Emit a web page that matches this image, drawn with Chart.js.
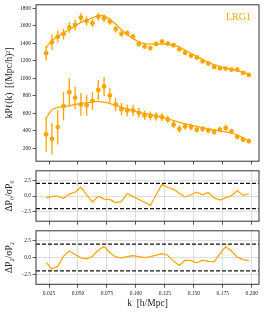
<!DOCTYPE html>
<html>
<head>
<meta charset="utf-8">
<script src="https://cdn.jsdelivr.net/npm/chart.js@4.4.1/dist/chart.umd.min.js"></script>
<style>
  html, body { margin: 0; padding: 0; background: #fff; }
  body { width: 266px; height: 312px; position: relative; overflow: hidden; }
  canvas { position: absolute; left: 0; }
</style>
</head>
<body>
<canvas id="multipoles" width="266" height="166" style="top:0"></canvas>
<canvas id="resMono" width="266" height="60" style="top:166px"></canvas>
<canvas id="resQuad" width="266" height="86" style="top:226px"></canvas>
<script>
// k bins (h/Mpc)
const kValues = [0.0225, 0.0275, 0.0325, 0.0375, 0.0425, 0.0475, 0.0525, 0.0575, 0.0625,
    0.0675, 0.0725, 0.0775, 0.0825, 0.0875, 0.0925, 0.0975, 0.1025, 0.1075, 0.1125,
    0.1175, 0.1225, 0.1275, 0.1325, 0.1375, 0.1425, 0.1475, 0.1525, 0.1575, 0.1625,
    0.1675, 0.1725, 0.1775, 0.1825, 0.1875, 0.1925, 0.1975];

// monopole kP0: measurement, error, model
const p0Data = [1286, 1411, 1475, 1506, 1580, 1611, 1694, 1656, 1630, 1705, 1687, 1649,
    1562, 1508, 1515, 1475, 1392, 1362, 1345, 1392, 1419, 1396, 1377, 1331, 1291, 1257,
    1237, 1192, 1169, 1128, 1113, 1110, 1098, 1098, 1060, 1037];
const p0Err = [85, 90, 70, 62, 60, 58, 55, 50, 45, 45, 43, 40, 38, 35, 33, 31, 30, 28,
    27, 26, 25, 24, 23, 22, 21, 20, 20, 19, 18, 18, 17, 17, 16, 16, 15, 15];
const p0Model = [1350, 1430, 1480, 1520, 1555, 1595, 1640, 1665, 1690, 1715, 1715, 1670,
    1620, 1555, 1500, 1455, 1415, 1395, 1390, 1390, 1390, 1388, 1378, 1355, 1320, 1285,
    1250, 1215, 1180, 1155, 1135, 1118, 1102, 1088, 1068, 1045];

// quadrupole kP2: measurement, error, model
const p2Data = [358, 306, 440, 680, 840, 776, 700, 690, 740, 866, 905, 803, 698, 645,
    630, 630, 604, 575, 566, 562, 553, 528, 468, 419, 449, 440, 411, 419, 403, 385,
    411, 430, 392, 329, 298, 279];
const p2Err = [200, 180, 200, 165, 165, 130, 130, 120, 105, 112, 110, 85, 75, 70, 66, 62,
    57, 53, 50, 48, 46, 44, 42, 40, 38, 37, 36, 35, 34, 33, 32, 31, 30, 29, 28, 27];
const p2Model = [540, 640, 665, 675, 685, 700, 710, 720, 730, 735, 725, 710, 690, 668,
    650, 630, 612, 598, 585, 570, 555, 535, 515, 495, 478, 462, 448, 433, 420, 408, 398,
    385, 372, 350, 318, 285];

// normalised residuals
const res0 = [-0.3, -0.05, 0.0, -0.4, 0.3, 0.6, 1.4, 0.2, -0.95, -0.05, -0.5, -0.55,
    -1.05, -0.9, 0.4, -0.1, -0.55, -1.0, -1.5, 0.2, 1.85, 1.35, 1.05, 0.45, -0.15, 0.2,
    0.6, 0.2, 0.55, -0.3, -0.65, -0.25, 0.05, 0.85, 0.1, 0.35];
const res2 = [-0.77, -1.7, -1.3, 0.2, 0.97, 0.46, -0.05, -0.2, 0.2, 1.08, 1.65, 0.72,
    0.1, -0.05, 0.15, 0.3, 0.15, 0.0, 0.15, 0.35, 0.57, 0.35, -0.57, -1.18, -0.4, -0.45,
    -0.8, -0.4, -0.57, -0.66, 0.6, 1.6, 0.97, 0.05, -0.3, -0.45];
const sigmaLevels = [2, -2];

// axes
const kTicks = [0.025, 0.05, 0.075, 0.1, 0.125, 0.15, 0.175, 0.2];
const kTickLabels = ["0.025", "0.050", "0.075", "0.100", "0.125", "0.150", "0.175", "0.200"];
const powerTicks = [200, 400, 600, 800, 1000, 1200, 1400, 1600, 1800];
const resTicks = [-2.5, 0, 2.5];
const resTickLabels = ["\u22122.5", "0.0", "2.5"];
const tracerName = "LRG1";

const ORANGE = "#ffa500";
const SERIF = "'Liberation Serif', 'DejaVu Serif', serif";
const kMin = 0.01375, kMax = 0.20625;

function toPoints(xs, ys) {
    return xs.map((x, i) => ({ x: x, y: ys[i] }));
}

// vertical error bar segments separated by gaps
function errorSegments(xs, ys, errs) {
    const pts = [];
    xs.forEach((x, i) => {
        pts.push({ x: x, y: ys[i] - errs[i] });
        pts.push({ x: x, y: ys[i] + errs[i] });
        pts.push({ x: x, y: null });
    });
    return pts;
}

const frame = {
    id: "frame",
    afterDraw(chart) {
        const a = chart.chartArea, c = chart.ctx;
        c.save();
        c.strokeStyle = "#333";
        c.lineWidth = 1;
        c.strokeRect(a.left, a.top, a.right - a.left, a.bottom - a.top);
        c.restore();
    }
};

const tracerLabel = {
    id: "tracerLabel",
    afterDraw(chart) {
        const a = chart.chartArea, c = chart.ctx;
        c.save();
        c.fillStyle = ORANGE;
        c.font = "10px " + SERIF;
        c.textAlign = "right";
        c.textBaseline = "alphabetic";
        c.fillText(tracerName, a.right - 8, a.top + 15.5);
        c.restore();
    }
};

function xAxis(showLabels, height, gridOn) {
    return {
        type: "linear",
        min: kMin,
        max: kMax,
        afterBuildTicks: s => { s.ticks = kTicks.map(v => ({ value: v })); },
        afterFit: s => { s.height = height; },
        grid: {
            display: true,
            drawOnChartArea: gridOn,
            color: "#d4d4d4",
            lineWidth: 0.8,
            tickColor: "#333",
            tickLength: 3.5
        },
        border: { display: false },
        ticks: {
            display: showLabels,
            autoSkip: false,
            maxRotation: 0,
            padding: 2,
            color: "#222",
            font: { family: SERIF, size: 5.5 },
            callback: (v, i) => kTickLabels[i]
        },
        title: {
            display: showLabels,
            text: "k  [h/Mpc]",
            color: "#222",
            font: { family: SERIF, size: 9.5 },
            padding: { top: 0, bottom: 3 }
        }
    };
}

function yAxis(min, max, ticks, labels, title, gridOn) {
    return {
        type: "linear",
        min: min,
        max: max,
        afterBuildTicks: s => { s.ticks = ticks.map(v => ({ value: v })); },
        afterFit: s => { s.width = 36; },
        grid: {
            display: true,
            drawOnChartArea: gridOn,
            color: "#d4d4d4",
            lineWidth: 0.8,
            tickColor: "#333",
            tickLength: 3.5
        },
        border: { display: false },
        ticks: {
            autoSkip: false,
            padding: 1.5,
            color: "#222",
            font: { family: SERIF, size: 5.5 },
            callback: (v, i) => labels[i]
        },
        title: {
            display: true,
            text: title,
            color: "#222",
            font: { family: SERIF, size: 9.5 },
            padding: { top: 4, bottom: 0 }
        }
    };
}

function baseOptions(padTop, xCfg, yCfg) {
    return {
        responsive: false,
        animation: false,
        events: [],
        layout: { padding: { top: padTop, right: 7, left: 0, bottom: 0 } },
        plugins: { legend: { display: false }, tooltip: { enabled: false } },
        scales: { x: xCfg, y: yCfg }
    };
}

function initMultipoles() {
    const ctx = document.getElementById("multipoles");
    new Chart(ctx, {
        type: "line",
        data: {
            datasets: [
                { data: toPoints(kValues, p0Data), showLine: false, pointRadius: 2.4,
                  pointBackgroundColor: ORANGE, pointBorderWidth: 0, order: 1 },
                { data: toPoints(kValues, p2Data), showLine: false, pointRadius: 2.4,
                  pointBackgroundColor: ORANGE, pointBorderWidth: 0, order: 1 },
                { data: toPoints(kValues, p0Model), borderColor: ORANGE, borderWidth: 1.3,
                  pointRadius: 0, tension: 0.35, order: 2 },
                { data: toPoints(kValues, p2Model), borderColor: ORANGE, borderWidth: 1.3,
                  pointRadius: 0, tension: 0.35, order: 2 },
                { data: errorSegments(kValues, p0Data, p0Err), borderColor: ORANGE,
                  borderWidth: 1.3, pointRadius: 0, spanGaps: false, order: 3 },
                { data: errorSegments(kValues, p2Data, p2Err), borderColor: ORANGE,
                  borderWidth: 1.3, pointRadius: 0, spanGaps: false, order: 3 }
            ]
        },
        options: baseOptions(4, xAxis(false, 4.3, false),
            yAxis(50, 1840, powerTicks, powerTicks.map(String),
                "kP\u2113(k)  [(Mpc/h)\u00b2]", false)),
        plugins: [frame, tracerLabel]
    });
}

function initResidual(id, values, title, padTop, xCfg) {
    const ctx = document.getElementById(id);
    const datasets = [
        { data: toPoints(kValues, values), borderColor: ORANGE, borderWidth: 1.2,
          pointRadius: 0, order: 1 }
    ];
    sigmaLevels.forEach(level => {
        datasets.push({
            data: [{ x: kMin, y: level }, { x: kMax, y: level }],
            borderColor: "#111", borderWidth: 1.3, borderDash: [4, 2],
            pointRadius: 0, order: 2
        });
    });
    new Chart(ctx, {
        type: "line",
        data: { datasets: datasets },
        options: baseOptions(padTop, xCfg,
            yAxis(-4, 4, resTicks, resTickLabels, title, true)),
        plugins: [frame]
    });
}

window.onload = () => {
    initMultipoles();
    initResidual("resMono", res0, "\u0394P\u2080/\u03c3P\u2080", 4, xAxis(false, 4.3, true));
    initResidual("resQuad", res2, "\u0394P\u2082/\u03c3P\u2082", 4.7, xAxis(true, 27.7, true));
};
</script>
</body>
</html>
